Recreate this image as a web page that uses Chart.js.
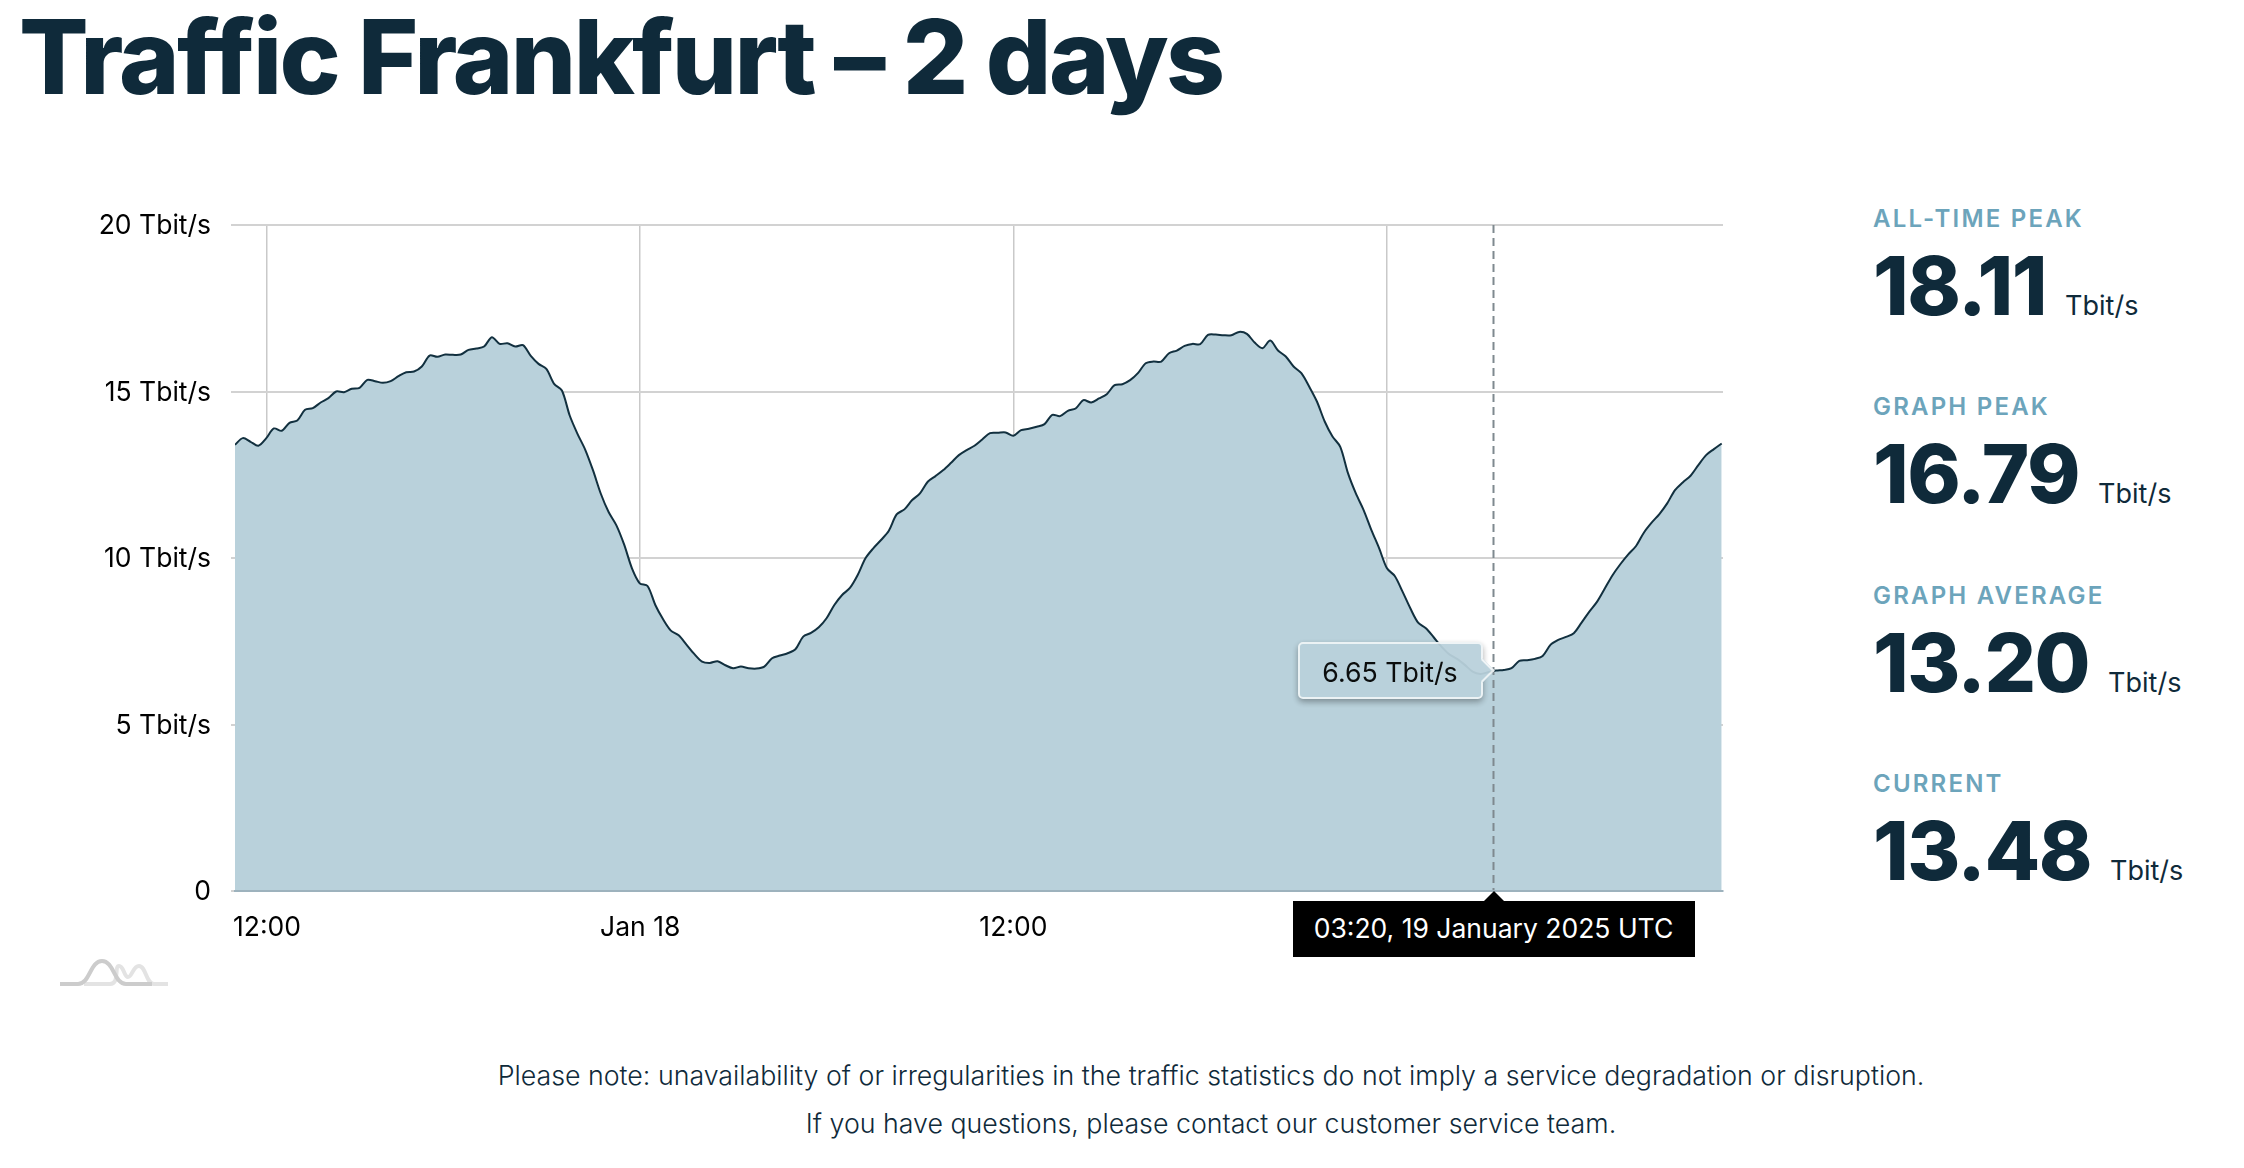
<!DOCTYPE html>
<html>
<head>
<meta charset="utf-8">
<title>Traffic Frankfurt – 2 days</title>
<script src="https://cdn.jsdelivr.net/npm/chart.js@4"></script>
<style>
  html, body { margin: 0; padding: 0; background: #fff; }
  body { width: 2244px; height: 1168px; position: relative; overflow: hidden; font-family: Inter, sans-serif; color: #0f2a3a; }
  canvas { position: absolute; left: 0; top: 0; }
  h1 { position: absolute; left: 19px; top: -1px; margin: 0; font-size: 103px; line-height: 116px; font-weight: 800; letter-spacing: -2.6px; white-space: nowrap; }
  .stat { position: absolute; left: 1873px; white-space: nowrap; }
  .stat .name { position: absolute; left: 0; top: 0; font-size: 24px; line-height: 28px; font-weight: 600; letter-spacing: 2.2px; color: #6ca4bb; }
  .stat .num { position: absolute; left: 0; top: 32px; font-size: 81px; line-height: 98px; font-weight: 800; letter-spacing: -1.5px; }
  .stat .unit { font-size: 27px; font-weight: 400; letter-spacing: 0; margin-left: 19px; }
  .note { position: absolute; left: 0; width: 2422px; text-align: center; font-size: 26.75px; line-height: 34px; font-weight: 300; }
  #valueTip { position: absolute; width: 185px; height: 57px; opacity: .94; }
  #valueTip .box { position: absolute; inset: 0; box-sizing: border-box; background: #b9d1db; border: 2.5px solid #eef4f6; border-radius: 5px; box-shadow: 0 3px 6px rgba(0,0,0,.35); font-size: 26.7px; line-height: 56px; text-align: center; color: #000; }
  #valueTip .arrow { position: absolute; right: -8.5px; top: 20px; width: 17px; height: 17px; box-sizing: border-box; background: #b9d1db; border-top: 2.5px solid #eef4f6; border-right: 2.5px solid #eef4f6; transform: rotate(45deg); }
  #timeTip { position: absolute; width: 402px; height: 56px; background: #000; color: #fff; font-size: 26.5px; line-height: 54px; text-align: center; }
  #timeTip .arrow { position: absolute; left: 191px; top: -10px; width: 0; height: 0; border-left: 10px solid transparent; border-right: 10px solid transparent; border-bottom: 10px solid #000; }
  #logo { position: absolute; left: 60px; top: 955px; }
</style>
</head>
<body>
<h1>Traffic Frankfurt – 2 days</h1>
<canvas id="trafficChart" width="1760" height="960"></canvas>
<div id="stats"></div>
<div id="valueTip"><div class="box"></div><div class="arrow"></div></div>
<div id="timeTip"><div class="arrow"></div><span></span></div>
<svg id="logo" width="110" height="34" viewBox="60 955 110 34" fill="none" stroke-width="4">
  <path d="M84 984H110C120 984 114 966 119 966C124 966 124 977 128 977C132 977 133 966 139 966C146 966 146 984 154 984H168" stroke="#e3e3e3"/>
  <path d="M60 984H78C90 984 90 961 102 961C114 961 114 984 126 984H152" stroke="#cccccc"/>
</svg>
<div class="note" style="top:1058px">Please note: unavailability of or irregularities in the traffic statistics do not imply a service degradation or disruption.</div>
<div class="note" style="top:1106px">If you have questions, please contact our customer service team.</div>
<script>
// traffic in Tbit/s, one reading roughly every 15 minutes
const trafficValues = [
  13.40,13.60,13.49,13.37,13.59,13.89,13.82,14.06,14.13,14.45,14.50,14.67,14.80,15.00,14.98,15.08,
  15.11,15.35,15.31,15.26,15.31,15.46,15.58,15.60,15.75,16.08,16.04,16.11,16.10,16.11,16.25,16.29,
  16.35,16.63,16.43,16.45,16.35,16.39,16.07,15.83,15.68,15.23,15.03,14.28,13.73,13.25,12.63,11.93,
  11.38,10.98,10.40,9.69,9.24,9.16,8.59,8.16,7.82,7.68,7.40,7.12,6.89,6.85,6.90,6.78,
  6.69,6.74,6.69,6.68,6.74,6.99,7.07,7.14,7.26,7.64,7.75,7.92,8.19,8.59,8.89,9.10,
  9.49,9.99,10.29,10.54,10.82,11.31,11.46,11.74,11.94,12.29,12.46,12.64,12.86,13.09,13.24,13.37,
  13.56,13.75,13.76,13.77,13.67,13.84,13.88,13.94,14.02,14.30,14.26,14.42,14.49,14.74,14.67,14.79,
  14.92,15.19,15.22,15.34,15.55,15.85,15.90,15.90,16.15,16.23,16.37,16.43,16.42,16.70,16.71,16.69,
  16.69,16.79,16.73,16.47,16.30,16.53,16.23,16.05,15.75,15.55,15.15,14.70,14.10,13.65,13.34,12.54,
  11.94,11.44,10.84,10.29,9.69,9.46,8.99,8.49,8.06,7.89,7.62,7.34,7.11,6.97,6.79,6.59,
  6.52,6.57,6.62,6.64,6.69,6.91,6.93,6.97,7.06,7.39,7.54,7.63,7.74,8.06,8.39,8.69,
  9.09,9.49,9.82,10.11,10.36,10.76,11.06,11.32,11.64,12.04,12.27,12.47,12.79,13.09,13.27,13.44
];
const firstHour = 10.97;   // hours since 17 Jan 00:00
const stepHours = 0.2503;
const lastHour = 58.82;

const xTickHours = [12, 24, 36, 48];
const xTickLabels = ['12:00', 'Jan 18', '12:00', 'Jan 19'];
const yTicks = [0, 5, 10, 15, 20];
const yTickLabels = ['0', '5 Tbit/s', '10 Tbit/s', '15 Tbit/s', '20 Tbit/s'];

const hoverHour = 51.44;
const hoverValue = 6.65;
const hoverValueText = '6.65 Tbit/s';
const hoverTimeText = '03:20, 19 January 2025 UTC';

const statNames = ['ALL-TIME PEAK', 'GRAPH PEAK', 'GRAPH AVERAGE', 'CURRENT'];
const statNumbers = ['18.11', '16.79', '13.20', '13.48'];
const statUnit = 'Tbit/s';

const points = trafficValues.map((v, i) => ({ x: firstHour + i * stepHours, y: v }));

// dashed marker at the hovered time
const crosshair = {
  id: 'crosshair',
  afterDatasetsDraw(chart) {
    const c = chart.ctx;
    const x = chart.scales.x.getPixelForValue(hoverHour);
    c.save();
    c.strokeStyle = '#7f898f';
    c.lineWidth = 2;
    c.setLineDash([8, 5]);
    c.beginPath();
    c.moveTo(x, chart.chartArea.top);
    c.lineTo(x, chart.chartArea.bottom);
    c.stroke();
    c.restore();
  }
};

const chart = new Chart(document.getElementById('trafficChart').getContext('2d'), {
  type: 'line',
  data: {
    datasets: [{
      data: points,
      borderColor: '#12303f',
      borderWidth: 2,
      backgroundColor: '#b9d1db',
      fill: 'origin',
      pointRadius: 0,
      tension: 0.3
    }]
  },
  options: {
    responsive: false,
    animation: false,
    events: [],
    layout: { padding: { top: 225, right: 37 } },
    plugins: { legend: { display: false }, tooltip: { enabled: false } },
    scales: {
      x: {
        type: 'linear',
        min: firstHour,
        max: lastHour,
        afterFit: s => { s.height = 69; },
        afterBuildTicks: s => { s.ticks = xTickHours.map(h => ({ value: h })); },
        grid: { color: '#c9c9c9', lineWidth: 1.5, drawTicks: false },
        border: { display: true, color: '#9db2bd', width: 2, z: 2 },
        ticks: {
          autoSkip: false,
          maxRotation: 0,
          padding: 21,
          color: '#000',
          font: { family: 'Inter', size: 26.5 },
          callback: (v, i) => xTickLabels[i]
        }
      },
      y: {
        min: 0,
        max: 20,
        afterFit: s => { s.width = 235; },
        afterBuildTicks: s => { s.ticks = yTicks.map(v => ({ value: v })); },
        grid: { color: '#d2d2d2', lineWidth: 2, tickLength: 4 },
        border: { display: false },
        ticks: {
          padding: 20,
          labelOffset: 1.5,
          color: '#000',
          font: { family: 'Inter', size: 26.5 },
          callback: (v, i) => yTickLabels[i]
        }
      }
    }
  },
  plugins: [crosshair]
});

// tooltips hang off the chart's own scales
const tipX = chart.scales.x.getPixelForValue(hoverHour);
const tipY = chart.scales.y.getPixelForValue(hoverValue);
const valueTip = document.getElementById('valueTip');
valueTip.style.left = (tipX - 196) + 'px';
valueTip.style.top = (tipY - 28) + 'px';
valueTip.querySelector('.box').textContent = hoverValueText;
const timeTip = document.getElementById('timeTip');
timeTip.style.left = (tipX - 201) + 'px';
timeTip.style.top = (chart.chartArea.bottom + 10) + 'px';
timeTip.querySelector('span').textContent = hoverTimeText;

statNames.forEach((name, i) => {
  const d = document.createElement('div');
  d.className = 'stat';
  d.style.top = (205 + i * 188.4) + 'px';
  d.innerHTML = '<div class="name">' + name + '</div><div class="num">' + statNumbers[i] + '<span class="unit">' + statUnit + '</span></div>';
  document.getElementById('stats').appendChild(d);
});
</script>
</body>
</html>
